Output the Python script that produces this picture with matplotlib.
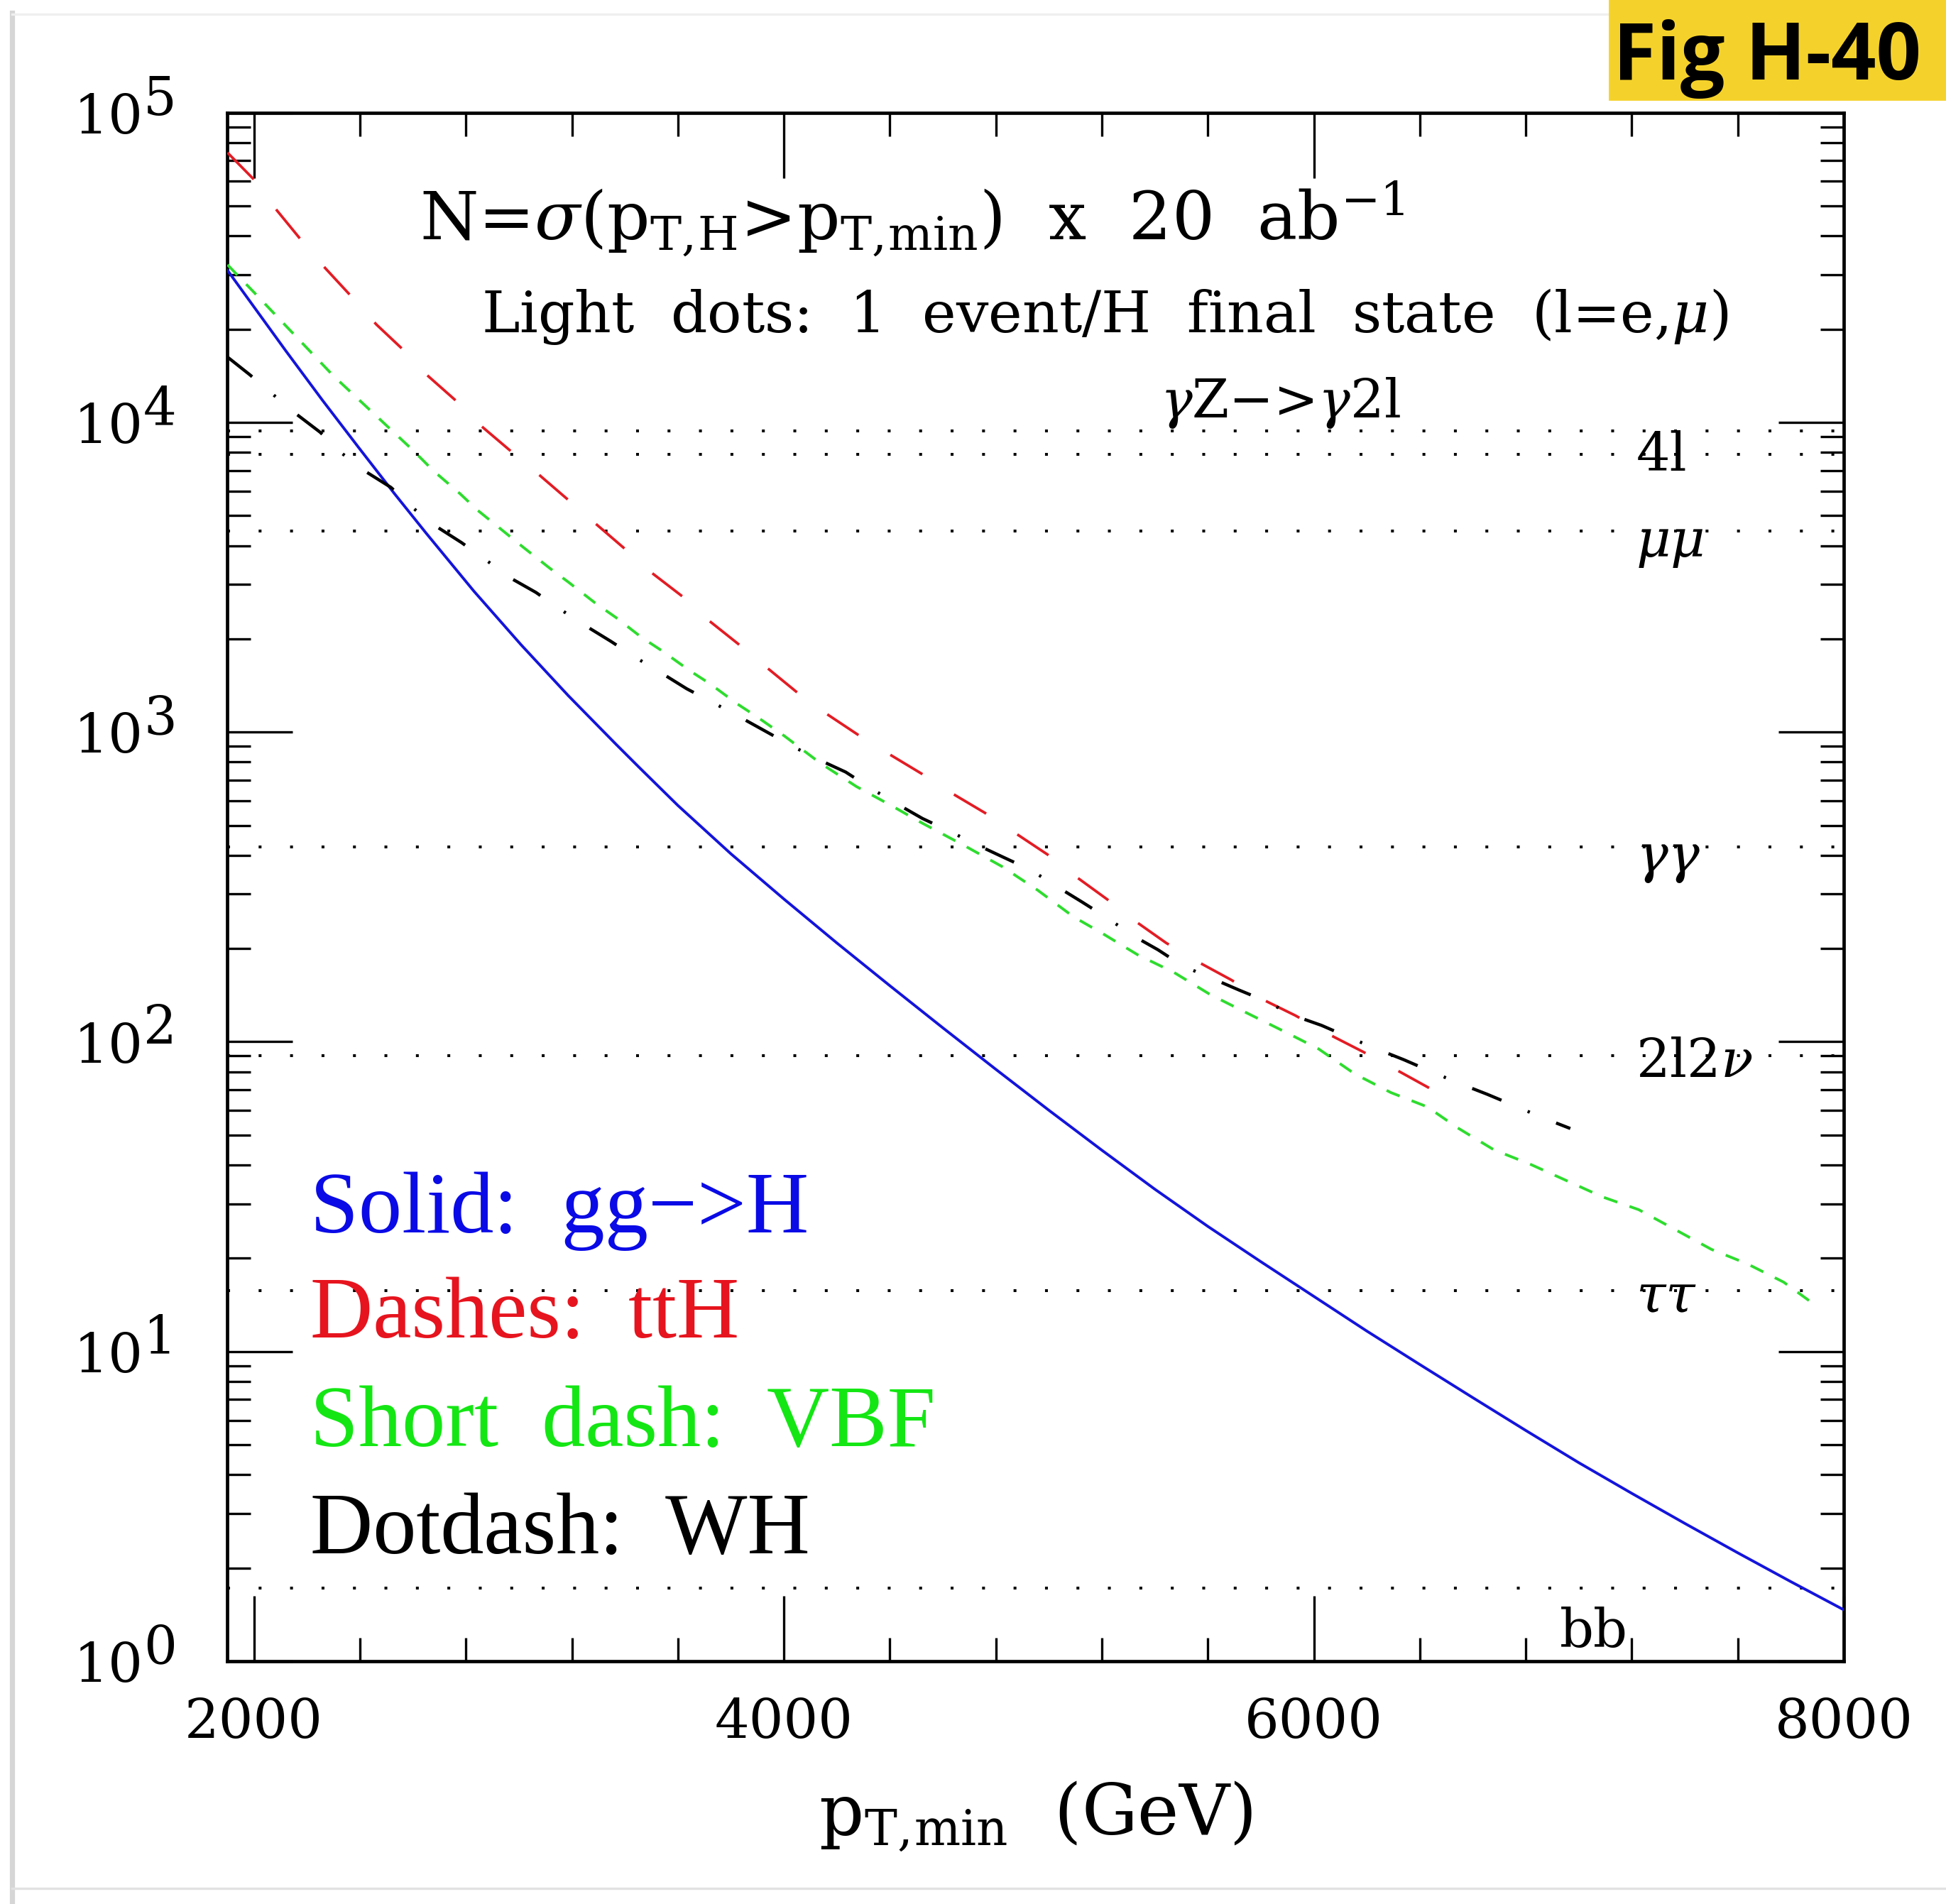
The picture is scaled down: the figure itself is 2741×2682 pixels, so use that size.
import numpy as np
import matplotlib
matplotlib.use("Agg")
import matplotlib.pyplot as plt
from matplotlib.ticker import FixedLocator, LogLocator, NullFormatter
from matplotlib.patches import Rectangle
from matplotlib.lines import Line2D
import matplotlib.transforms as mtransforms

plt.rcParams['font.family'] = ['DejaVu Serif']
plt.rcParams['mathtext.fontset'] = 'dejavuserif'
plt.rcParams['lines.scale_dashes'] = False

# ---------------- data (y given as log10 N) -------------
gg_pt = [1900, 2121, 2258, 2394, 2531, 2651, 2830, 3008, 3187, 3366, 3455, 3600,
         3800, 4000, 4200, 4400, 4600, 4800, 5000, 5200, 5400, 5600, 5800, 6000,
         6200, 6400, 6600, 6800, 7000, 7200, 7400, 7600, 7800, 8000]
gg_log10N = [4.491, 4.230, 4.072, 3.920, 3.769, 3.641, 3.455, 3.282, 3.117, 2.961,
             2.885, 2.763, 2.607, 2.461, 2.319, 2.181, 2.045, 1.911, 1.779, 1.650,
             1.524, 1.404, 1.290, 1.178, 1.066, 0.958, 0.851, 0.745, 0.641, 0.542,
             0.445, 0.350, 0.257, 0.166]

tth_pt = [1900, 2000, 2086, 2174, 2270, 2364, 2462, 2565, 2654, 2761, 2858, 2975,
          3077, 3187, 3296, 3398, 3500, 3617, 3714, 3830, 3933, 4050, 4159, 4282,
          4395, 4521, 4633, 4759, 4873, 4996, 5101, 5220, 5327, 5443, 5563, 5688,
          5811, 5930, 6057, 6185, 6308, 6435]
tth_log10N = [4.871, 4.784, 4.685, 4.593, 4.497, 4.410, 4.316, 4.233, 4.152, 4.071,
              3.988, 3.903, 3.830, 3.749, 3.668, 3.593, 3.515, 3.438, 3.362, 3.283,
              3.210, 3.128, 3.060, 2.990, 2.930, 2.865, 2.803, 2.739, 2.674, 2.604,
              2.534, 2.460, 2.389, 2.319, 2.258, 2.200, 2.135, 2.085, 2.024, 1.968,
              1.911, 1.851]

vbf_pt = [1900, 2000, 2100, 2200, 2300, 2400, 2500, 2600, 2678, 2776, 2843, 2941,
          3013, 3115, 3187, 3289, 3366, 3464, 3539, 3645, 3721, 3824, 3899, 4001,
          4137, 4274, 4411, 4520, 4684, 4821, 4957, 5094, 5198, 5335, 5472, 5608,
          5745, 5882, 6018, 6155, 6291, 6428, 6543, 6680, 6816, 6953, 7090, 7226,
          7363, 7500, 7636, 7773, 7876]
vbf_log10N = [4.509, 4.420, 4.330, 4.240, 4.150, 4.070, 3.990, 3.910, 3.843, 3.771,
              3.717, 3.649, 3.599, 3.530, 3.484, 3.416, 3.370, 3.305, 3.263, 3.198,
              3.156, 3.091, 3.049, 2.988, 2.900, 2.824, 2.760, 2.707, 2.632, 2.567,
              2.490, 2.403, 2.352, 2.281, 2.224, 2.153, 2.094, 2.036, 1.977, 1.896,
              1.836, 1.790, 1.722, 1.651, 1.605, 1.552, 1.499, 1.458, 1.394, 1.330,
              1.283, 1.224, 1.160]

wh_pt = [1900, 1984, 2072, 2155, 2250, 2332, 2420, 2517, 2601, 2688, 2783, 2875,
         2967, 3064, 3155, 3248, 3347, 3442, 3539, 3633, 3735, 3835, 3932, 4035,
         4134, 4233, 4329, 4427, 4523, 4622, 4726, 4828, 4931, 5029, 5124, 5220,
         5317, 5412, 5505, 5615, 5718, 5814, 5923, 6029, 6131, 6237, 6340, 6445,
         6551, 6653, 6759, 6863, 6968]
wh_log10N = [4.211, 4.154, 4.090, 4.030, 3.968, 3.900, 3.842, 3.790, 3.723, 3.664,
             3.612, 3.556, 3.498, 3.451, 3.397, 3.345, 3.293, 3.240, 3.190, 3.140,
             3.094, 3.048, 3.002, 2.953, 2.910, 2.871, 2.818, 2.768, 2.721, 2.681,
             2.637, 2.596, 2.555, 2.502, 2.452, 2.400, 2.343, 2.297, 2.245, 2.205,
             2.167, 2.133, 2.085, 2.053, 2.015, 1.977, 1.942, 1.903, 1.865, 1.831,
             1.793, 1.755, 1.720]

# "light dots": 1 event per Higgs final state
dot_levels = [9400, 7900, 4450, 425, 90, 15.7, 1.72]

channel_labels = [r"$\gamma$Z$-$>$\gamma$2l", "4l", r"$\mu\mu$", r"$\gamma\gamma$",
                  r"2l2$\nu$", r"$\tau\tau$", "bb"]
channel_label_x = [5421, 7216, 7216, 7216, 7216, 7216, 6929]
channel_label_y = [11530, 7800, 4060, 390, 86, 14.9, 1.24]

legend_texts = ["Solid:  gg\u2212>H", "Dashes:  ttH", "Short  dash:  VBF", "Dotdash:  WH"]
legend_colors = ["#0a0ae6", "#e6141e", "#14e614", "black"]

x_major = [2000, 4000, 6000, 8000]
x_minor = [2400, 2800, 3200, 3600, 4400, 4800, 5200, 5600, 6400, 6800, 7200, 7600]
y_decades = [0, 1, 2, 3, 4, 5]

# ---------------- figure ----------------
W, H, DPI = 2741, 2682, 200
fig = plt.figure(figsize=(W / DPI, H / DPI), dpi=DPI)
fig.patch.set_facecolor('white')

L, R, T, B = 320.4, 2597.0, 158.7, 2340.0
ax = fig.add_axes([L / W, 1 - B / H, (R - L) / W, (B - T) / H])
ax.set_yscale('log')
ax.set_xlim(1900, 8000)
ax.set_ylim(1, 1e5)

for lvl in dot_levels:
    ax.axhline(lvl, color='black', lw=1.45, linestyle=(0, (1.45, 14.5)), zorder=1)

ax.plot(gg_pt, 10 ** np.array(gg_log10N), color='#1414dc', lw=1.4, zorder=3)
ax.plot(tth_pt, 10 ** np.array(tth_log10N), color='#e31c24', lw=1.35,
        linestyle=(0, (19, 19)), zorder=3)
ax.plot(vbf_pt, 10 ** np.array(vbf_log10N), color='#2edc2e', lw=1.4,
        linestyle=(0, (7.2, 6.5)), zorder=3)
ax.plot(wh_pt, 10 ** np.array(wh_log10N), color='black', lw=1.6,
        linestyle=(0, (16, 14.4, 1.2, 14.4)), zorder=3)

# ticks
ax.xaxis.set_major_locator(FixedLocator(x_major))
ax.xaxis.set_minor_locator(FixedLocator(x_minor))
ax.yaxis.set_major_locator(LogLocator(base=10, numticks=12))
ax.yaxis.set_minor_locator(LogLocator(base=10, subs=np.arange(2, 10), numticks=40))
ax.yaxis.set_major_formatter(NullFormatter())
ax.yaxis.set_minor_formatter(NullFormatter())
ax.tick_params(which='both', direction='in', top=True, right=True, width=1.2,
               color='black')
ax.tick_params(which='major', length=33)
ax.tick_params(which='minor', length=11.9)
ax.tick_params(axis='x', which='major', labelsize=27.6, pad=18)
for sp in ax.spines.values():
    sp.set_linewidth(1.7)

# y tick labels as "10" + exponent
tr = mtransforms.blended_transform_factory(ax.transAxes, ax.transData)
for k in y_decades:
    ax.text(-0.052, 10.0 ** k, "10", fontsize=27.7, ha='right', va='center',
            transform=tr + mtransforms.ScaledTranslation(0, -2.9 / 72, fig.dpi_scale_trans),
            clip_on=False)
    ax.text(-0.052, 10.0 ** k, str(k), fontsize=26.5, ha='left', va='center',
            transform=tr + mtransforms.ScaledTranslation(0, 6.3 / 72, fig.dpi_scale_trans),
            clip_on=False)

# headers
ax.text(0.119, 0.918, r"N=$\sigma$(p$_{\rm T,\!H}$>p$_{\rm T,\!min}$)  x  20  ab$^{-1}$",
        transform=ax.transAxes, fontsize=34, ha='left', va='baseline')
ax.text(0.157, 0.858, r"Light  dots:  1  event/H  final  state  (l=e,$\mu$)",
        transform=ax.transAxes, fontsize=29, ha='left', va='baseline')

for lab, lx, ly in zip(channel_labels, channel_label_x, channel_label_y):
    ax.text(lx, ly, lab, fontsize=27, ha='left', va='center', zorder=4)

legend_y = [0.277, 0.209, 0.139, 0.0696]
for txt, col, yy in zip(legend_texts, legend_colors, legend_y):
    ax.text(0.0512, yy, txt, color=col, fontsize=44,
            family=['Liberation Serif', 'DejaVu Serif'],
            ha='left', va='baseline', transform=ax.transAxes)

ax.text(0.5, -0.112, r"p$_{\rm T,\!min}$  (GeV)", transform=ax.transAxes,
        fontsize=35.5, ha='center', va='baseline')

# badge and frame decorations
fig.patches.append(Rectangle((2267 / W, 1 - 140 / H), (W - 2267) / W, 140 / H,
                             transform=fig.transFigure, color='#f5d22b', zorder=5))
fig.text(2272 / W, 1 - 112 / H, "Fig H-40", fontsize=40, fontweight='bold',
         family=['Open Sans', 'DejaVu Sans'], ha='left', va='baseline', zorder=6)
fig.add_artist(Line2D([17 / W, 17 / W], [0, 1 - 18 / H], color='#d6d6d6', lw=2.6,
                      transform=fig.transFigure))
fig.add_artist(Line2D([17 / W, 2267 / W], [1 - 20 / H, 1 - 20 / H], color='#efefef',
                      lw=1.2, transform=fig.transFigure))
fig.add_artist(Line2D([17 / W, 1.0], [1 - 2660 / H, 1 - 2660 / H], color='#e2e2e2',
                      lw=1.2, transform=fig.transFigure))

fig.savefig("out.png", dpi=DPI)
